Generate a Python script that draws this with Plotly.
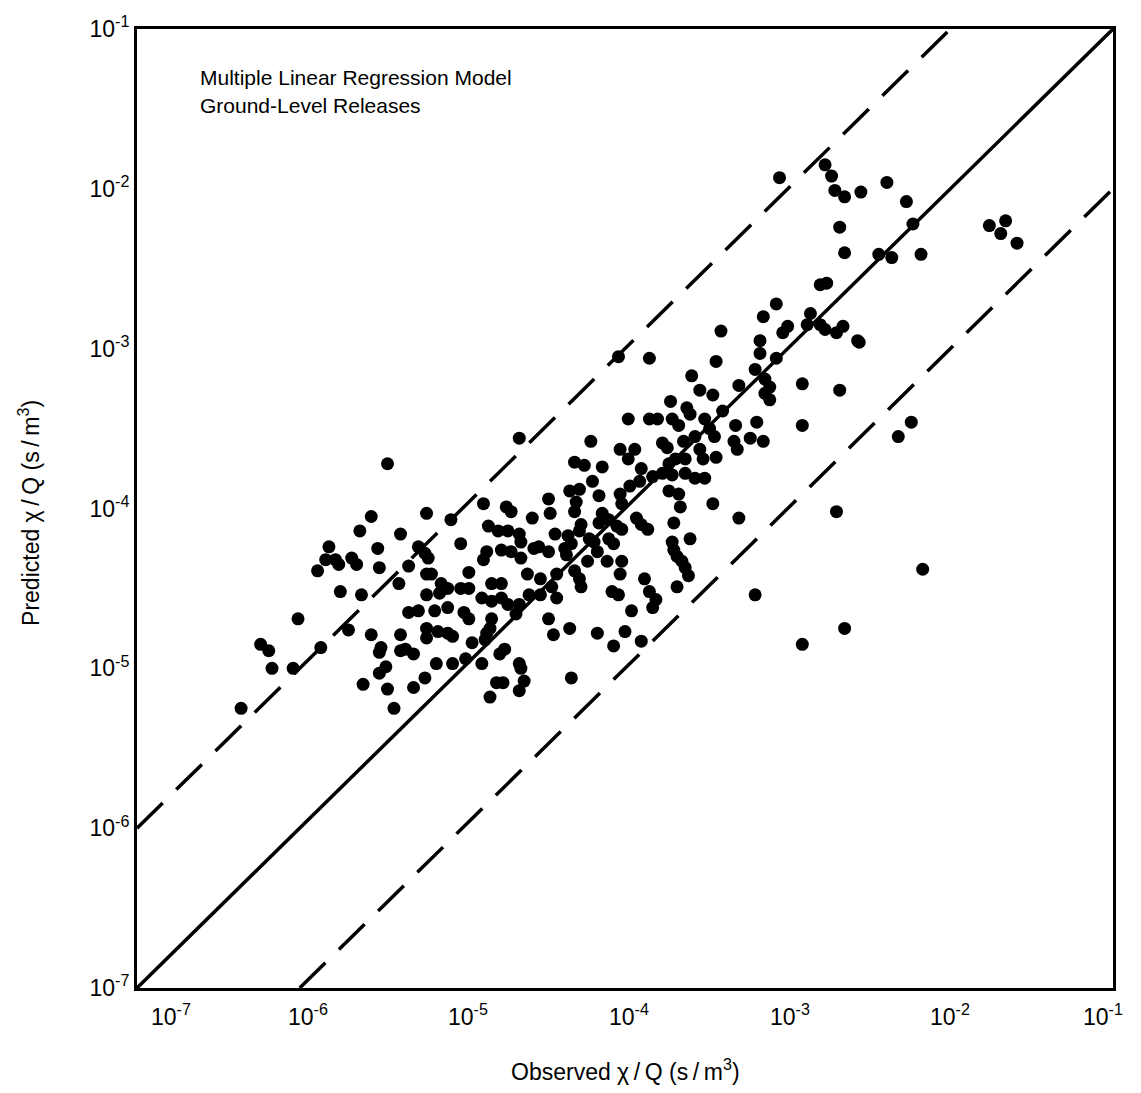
import numpy as np
import plotly.graph_objects as go

# log10 of observed / predicted chi/Q (s/m^3), grouped by region
obs_a = [-3.05,-2.77,-2.73,-2.71,-2.65,-2.55,-2.39,-2.27,-2.68,-2.23,-1.76,-1.66,-1.69,-1.59,-2.65,-2.44,
         -2.36,-2.18,-2.80,-2.76,-3.07,-3.15,-2.86,-2.88,-2.80,-3.00,-3.03,-2.66,-2.70,-2.77,-3.17,-2.57]
pred_a = [-1.93,-1.85,-1.92,-2.01,-2.05,-2.02,-1.96,-2.08,-2.24,-2.22,-2.23,-2.20,-2.28,-2.34,-2.40,-2.41,
          -2.43,-2.41,-2.60,-2.59,-2.72,-2.80,-2.78,-2.85,-2.85,-2.86,-2.90,-2.86,-2.90,-2.88,-2.95,-2.95]

obs_b = [-3.41,-4.04,-3.85,-3.44,-3.17,-2.56,-3.07,-3.20,-3.14,-3.11,-3.14,-3.11,-2.91,-2.68,-3.59,-3.54,
         -3.30,-3.46,-3.72,-3.62,-3.60,-3.98,-3.85,-3.80,-3.71,-3.67,-3.51,-3.48,-3.40,-3.32,-3.19,-2.91,
         -2.24,-2.32,-3.77,-3.74,-3.64,-3.57,-3.54,-3.45,-3.33,-3.31,-3.23,-3.15,-3.44,-3.52,-3.69,-3.63,
         -3.73,-3.94,-3.98,-3.90]
pred_b = [-2.89,-3.05,-3.06,-3.08,-3.03,-2.96,-3.06,-3.13,-3.19,-3.24,-3.28,-3.32,-3.22,-3.26,-3.17,-3.26,
          -3.23,-3.29,-3.33,-3.37,-3.41,-3.44,-3.44,-3.44,-3.44,-3.48,-3.44,-3.50,-3.39,-3.48,-3.46,-3.48,
          -3.46,-3.55,-3.59,-3.62,-3.58,-3.55,-3.63,-3.55,-3.58,-3.63,-3.56,-3.58,-3.68,-3.69,-3.69,-3.69,
          -3.72,-3.63,-3.69,-3.75]

obs_c = [-5.46,-4.65,-4.21,-4.31,-4.25,-4.14,-4.03]
pred_c = [-3.72,-3.56,-3.58,-3.71,-3.73,-3.74,-3.63]

obs_d = [-3.83,-3.77,-3.71,-3.63,-3.57,-3.91,-3.97,-3.51,-4.20,-4.34,-4.28,-4.30,-4.31,-4.16,-4.03,-4.02,
         -3.73,-3.67,-3.46,-3.66,-3.70,-4.14,-4.10,-4.16,-4.05,-4.02,-3.93,-3.90,-3.86,-4.27,-4.28,-4.35,
         -4.33,-4.37,-4.36,-4.22,-4.19,-4.10,-4.07,-3.71,-3.70,-3.68,-3.65,-3.63,-3.61,-3.60,-4.17,-4.11,
         -4.23,-4.02,-4.03,-4.31,-4.28,-4.27,-3.88,-3.85,-3.68,-4.08,-4.04,-3.81,-3.83,-3.96,-4.34,-4.17,
         -4.00,-4.07,-3.90,-4.33]
pred_d = [-3.80,-3.78,-3.79,-3.78,-3.81,-3.83,-3.86,-3.81,-3.83,-3.89,-3.88,-3.96,-4.02,-3.92,-3.91,-3.97,
          -3.89,-3.91,-3.97,-3.99,-4.09,-4.03,-4.07,-4.09,-4.11,-4.13,-4.06,-4.10,-4.13,-4.10,-4.14,-4.17,
          -4.22,-4.25,-4.29,-4.19,-4.21,-4.19,-4.22,-4.21,-4.26,-4.30,-4.33,-4.37,-4.42,-4.19,-4.27,-4.33,
          -4.33,-4.33,-4.41,-4.39,-4.44,-4.49,-4.44,-4.52,-4.49,-4.52,-4.54,-4.57,-4.62,-4.64,-4.75,-4.78,
          -4.77,-4.86,-4.83,-5.06]

obs_e = [-3.30,-2.70,-2.17,-3.20,-2.65,-2.91]
pred_e = [-4.06,-4.02,-4.38,-4.54,-4.75,-4.85]

obs_f = [-4.87,-4.73,-4.70,-4.47,-4.46,-4.57,-5.22,-5.07,-4.84,-4.78,-4.72,-4.65,-5.01,-4.64,-4.53,-4.43,
         -4.85,-4.87,-4.76,-4.70,-4.64,-4.56,-4.47,-5.38,-5.27,-5.23,-5.21,-5.33,-5.22,-5.19,-4.96,-5.13,
         -5.09,-5.01,-4.96,-4.82,-4.76,-4.60,-4.52,-4.42,-4.45]
pred_f = [-3.97,-3.99,-4.02,-3.94,-4.03,-4.06,-4.03,-4.07,-4.11,-4.14,-4.14,-4.16,-4.22,-4.21,-4.24,-4.16,
          -4.27,-4.32,-4.26,-4.27,-4.31,-4.25,-4.27,-4.16,-4.24,-4.28,-4.31,-4.36,-4.41,-4.41,-4.40,-4.47,
          -4.50,-4.50,-4.50,-4.47,-4.47,-4.41,-4.44,-4.41,-4.49]

obs_g = [-5.22,-5.14,-4.88,-4.82,-4.76,-4.72,-4.65,-4.67,-4.59,-4.52,-4.42,-5.33,-5.27,-5.17,-5.09,-4.99,
         -4.96,-4.82,-4.83,-4.47,-4.44,-5.38,-5.22,-5.22,-5.15,-5.09,-5.06,-4.94,-4.85,-4.86,-5.35,-5.30,
         -5.16,-5.06,-4.98,-4.88,-4.77,-4.74,-4.65,-4.64,-5.23,-5.30,-4.79,-4.75,-4.62,-4.65,-4.83]
pred_g = [-4.54,-4.53,-4.56,-4.58,-4.56,-4.60,-4.60,-4.66,-4.54,-4.54,-4.56,-4.65,-4.64,-4.64,-4.62,-4.65,
          -4.69,-4.69,-4.75,-4.69,-4.79,-4.79,-4.75,-4.81,-4.77,-4.78,-4.80,-4.84,-4.78,-4.82,-4.88,-4.91,
          -4.97,-4.97,-4.94,-4.97,-4.91,-4.88,-4.97,-5.00,-5.06,-5.12,-5.09,-5.09,-5.08,-5.14,-5.18]

obs_h = [-5.56,-5.63,-5.82,-5.52,-5.84,-5.78,-5.76,-5.89,-5.68,-5.65,-5.51,-5.75,-5.62,-5.39,-6.01,-5.70,
         -5.87,-5.56,-6.24,-6.19,-5.50,-5.51,-5.38,-6.17,-6.04,-5.47,-5.51,-5.61,-5.46,-5.42,-6.36]
pred_h = [-4.05,-4.14,-4.24,-4.25,-4.32,-4.32,-4.35,-4.39,-4.31,-4.35,-4.37,-4.52,-4.54,-4.47,-4.69,-4.76,
          -4.87,-4.79,-4.85,-4.89,-4.87,-4.90,-4.89,-5.00,-5.00,-4.99,-5.03,-5.10,-5.13,-5.25,-5.25]

obs_exp = obs_a + obs_b + obs_c + obs_d + obs_e + obs_f + obs_g + obs_h
pred_exp = pred_a + pred_b + pred_c + pred_d + pred_e + pred_f + pred_g + pred_h
assert len(obs_exp) == len(pred_exp)

observed = np.power(10.0, obs_exp)
predicted = np.power(10.0, pred_exp)

# reference lines: 1:1 and factor-of-10 bounds
line_11_x = [1e-7, 1e-1]
line_11_y = [1e-7, 1e-1]
upper_x = [1e-7, 1e-2]
upper_y = [1e-6, 1e-1]
lower_x = [1e-6, 1e-1]
lower_y = [1e-7, 1e-2]

tick_exps = [-7, -6, -5, -4, -3, -2, -1]
tick_vals = [10.0 ** e for e in tick_exps]
tick_text = ["10<sup>%d</sup>" % e for e in tick_exps]
x_label_nudge = [34, 8, 6, 4, 2, 0, -10]   # px offsets of the x tick labels as in the reference

FONT = "Liberation Sans, Arial, Helvetica, sans-serif"
TXT = dict(family=FONT, color="black")
SP = "\u2009"  # thin space, the reference sets the slashes a little loosely

fig = go.Figure()
fig.add_trace(go.Scatter(x=line_11_x, y=line_11_y, mode="lines",
                         line=dict(color="black", width=3.5), hoverinfo="skip"))
fig.add_trace(go.Scatter(x=upper_x, y=upper_y, mode="lines",
                         line=dict(color="black", width=3.5, dash="36px,19px"), hoverinfo="skip"))
fig.add_trace(go.Scatter(x=lower_x, y=lower_y, mode="lines",
                         line=dict(color="black", width=3.5, dash="36px,19px"), hoverinfo="skip"))
fig.add_trace(go.Scatter(x=observed, y=predicted, mode="markers",
                         marker=dict(color="black", size=13, line=dict(width=0))))

# in-plot caption
fig.add_annotation(x=0.063, y=(988 - 75) / 962, xref="paper", yref="paper",
                   text="Multiple Linear Regression Model", showarrow=False,
                   xanchor="left", yanchor="middle", font=dict(size=21, **TXT))
fig.add_annotation(x=0.063, y=(988 - 103) / 962, xref="paper", yref="paper",
                   text="Ground-Level Releases", showarrow=False,
                   xanchor="left", yanchor="middle", font=dict(size=21, **TXT))

# x tick labels (placed like the reference)
for e, t, dx in zip(tick_exps, tick_text, x_label_nudge):
    fig.add_annotation(x=e, y=0, xref="x", yref="paper", text=t, showarrow=False,
                       xanchor="center", yanchor="top", xshift=dx, yshift=-10,
                       font=dict(size=23, **TXT))

# axis titles
x_title = "Observed χ" + SP + "/" + SP + "Q (s" + SP + "/" + SP + "m<sup>3</sup>)"
y_title = "Predicted χ" + SP + "/" + SP + "Q (s" + SP + "/" + SP + "m<sup>3</sup>)"
fig.add_annotation(x=0.5, y=-0.085, xref="paper", yref="paper",
                   text=x_title, showarrow=False,
                   xanchor="center", yanchor="middle", font=dict(size=23, **TXT))
fig.add_annotation(x=-0.11, y=0.495, xref="paper", yref="paper", textangle=-90,
                   text=y_title, showarrow=False,
                   xanchor="center", yanchor="middle", font=dict(size=23, **TXT))

axis_common = dict(type="log", range=[-7, -1], tickvals=tick_vals, ticktext=tick_text,
                   showgrid=False, zeroline=False, showline=True, mirror=True,
                   linecolor="black", linewidth=3, ticks="")

fig.update_layout(
    width=1141, height=1093,
    margin=dict(l=137, r=28, t=26, b=105),
    plot_bgcolor="white", paper_bgcolor="white",
    showlegend=False,
    xaxis=dict(**axis_common, showticklabels=False),
    yaxis=dict(**axis_common, showticklabels=True,
               tickfont=dict(size=23, **TXT)),
)

fig.write_html("out.html")
